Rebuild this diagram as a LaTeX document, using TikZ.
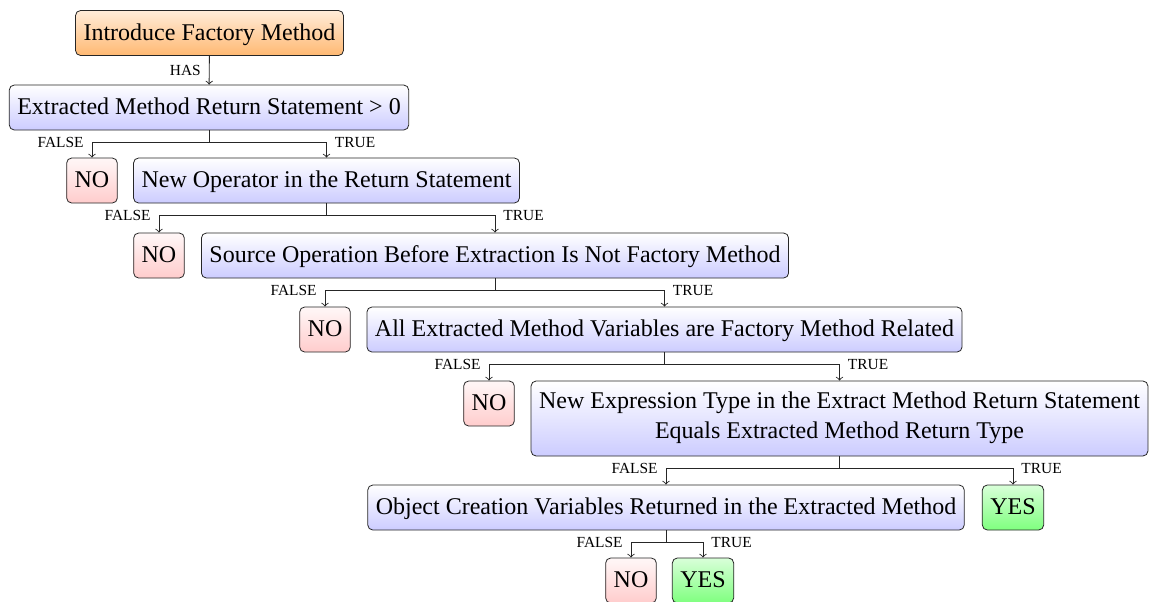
\documentclass[tikz,border=0pt]{standalone}
\usepackage{fontspec}
\setmainfont{Liberation Serif}
\usetikzlibrary{calc}

\tikzset{
  box/.style={draw=black!85, rounded corners=2.5pt, inner xsep=4pt, inner ysep=0pt,
              minimum height=22.5pt, text height=9.1pt, text depth=2pt,
              font=\fontsize{12}{15}\selectfont, align=center},
  cond/.style={box, top color=white, bottom color=blue!20},
  root/.style={box, top color=orange!15, bottom color=orange!55},
  nobox/.style={box, top color=red!3, bottom color=red!20},
  yesbox/.style={box, top color=green!15, bottom color=green!50},
  lbl/.style={font=\fontsize{7.7}{8}\selectfont, inner sep=0.5pt},
  conn/.style={->, draw=black!85, line width=0.45pt},
}

\begin{document}
\begin{tikzpicture}[x=0.5pt, y=-0.5pt]
  \useasboundingbox (0,0) rectangle (1150,601);

  % decision nodes
  \node[root]   (n0)  at (209.5, 33)   {Introduce Factory Method};
  \node[cond]   (n1)  at (209, 107.5)  {Extracted Method Return Statement > 0};
  \node[nobox]  (no1) at (92, 180.5)   {NO};
  \node[cond]   (n2)  at (326.5, 180.5){New Operator in the Return Statement};
  \node[nobox]  (no2) at (159, 255.5)  {NO};
  \node[cond]   (n3)  at (495, 255.5)  {Source Operation Before Extraction Is Not Factory Method};
  \node[nobox]  (no3) at (325, 329.5)  {NO};
  \node[cond]   (n4)  at (664.5, 329.5){All Extracted Method Variables are Factory Method Related};
  \node[nobox]  (no4) at (489, 403.5)  {NO};
  \node[cond, minimum height=37.5pt, text height=28.7pt, text depth=8.8pt] (n5) at (839.5, 418.5)
        {New Expression Type in the Extract Method Return Statement\\Equals Extracted Method Return Type};
  \node[cond]   (n6)  at (666, 507.5)  {Object Creation Variables Returned in the Extracted Method};
  \node[yesbox] (yes1) at (1013, 507.5){YES};
  \node[nobox]  (no5) at (631, 580.5)  {NO};
  \node[yesbox] (yes2) at (703, 580.5) {YES};

  % branch points just below each decision
  \foreach \p in {n1,n2,n3,n4,n5,n6}{
    \coordinate (\p b) at ($(\p.south)+(0,12)$);
    \draw[draw=black!85, line width=0.45pt] (\p.south) -- (\p b);
  }

  \draw[conn] (n0) -- node[lbl, anchor=east, xshift=-3.5pt]{HAS} (n1);

  \draw[conn] (n1b) -| node[lbl, pos=0.5, anchor=east, xshift=-3.5pt]{FALSE} (no1.north);
  \draw[conn] (n1b) -| node[lbl, pos=0.5, anchor=west, xshift=3.5pt]{TRUE} (n2.north);

  \draw[conn] (n2b) -| node[lbl, pos=0.5, anchor=east, xshift=-3.5pt]{FALSE} (no2.north);
  \draw[conn] (n2b) -| node[lbl, pos=0.5, anchor=west, xshift=3.5pt]{TRUE} (n3.north);

  \draw[conn] (n3b) -| node[lbl, pos=0.5, anchor=east, xshift=-3.5pt]{FALSE} (no3.north);
  \draw[conn] (n3b) -| node[lbl, pos=0.5, anchor=west, xshift=3.5pt]{TRUE} (n4.north);

  \draw[conn] (n4b) -| node[lbl, pos=0.5, anchor=east, xshift=-3.5pt]{FALSE} (no4.north);
  \draw[conn] (n4b) -| node[lbl, pos=0.5, anchor=west, xshift=3.5pt]{TRUE} (n5.north);

  \draw[conn] (n5b) -| node[lbl, pos=0.5, anchor=east, xshift=-3.5pt]{FALSE} (n6.north);
  \draw[conn] (n5b) -| node[lbl, pos=0.5, anchor=west, xshift=3.5pt]{TRUE} (yes1.north);

  \draw[conn] (n6b) -| node[lbl, pos=0.5, anchor=east, xshift=-3.5pt]{FALSE} (no5.north);
  \draw[conn] (n6b) -| node[lbl, pos=0.5, anchor=west, xshift=3.5pt]{TRUE} (yes2.north);
\end{tikzpicture}
\end{document}
